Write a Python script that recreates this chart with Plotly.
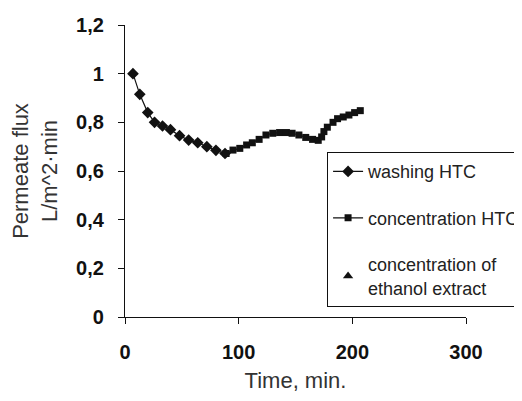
import plotly.graph_objects as go

# Data
washing_time = [7, 13, 20, 26, 33, 40, 48, 56, 64, 72, 80, 88]
washing_flux = [1.0, 0.915, 0.84, 0.80, 0.785, 0.77, 0.745, 0.727, 0.716, 0.70, 0.685, 0.672]

conc_time = [89, 95, 101, 107, 112, 118, 124, 130, 136, 142, 147, 153, 159, 165, 170,
             173, 175, 178, 183, 187, 192, 197, 202, 207]
conc_flux = [0.672, 0.686, 0.693, 0.707, 0.716, 0.73, 0.748, 0.755, 0.758, 0.758, 0.755,
             0.748, 0.738, 0.73, 0.726, 0.74, 0.762, 0.78, 0.80, 0.815, 0.822, 0.83, 0.84, 0.848]

ethanol_time = [None]
ethanol_flux = [None]

x_ticks = [0, 100, 200, 300]
y_ticks = [0, 0.2, 0.4, 0.6, 0.8, 1.0, 1.2]

FONT = "Arial, Liberation Sans, sans-serif"
INK = "#111111"

fig = go.Figure()
fig.add_trace(go.Scatter(
    x=washing_time, y=washing_flux, name="washing HTC", mode="lines+markers",
    line=dict(color=INK, width=1.2), marker=dict(symbol="diamond", size=9, color=INK),
    legendgroup="a"))
fig.add_trace(go.Scatter(
    x=conc_time, y=conc_flux, name="concentration HTC", mode="lines+markers",
    line=dict(color=INK, width=1.2), marker=dict(symbol="square", size=7, color=INK),
    legendgroup="b"))
fig.add_trace(go.Scatter(
    x=ethanol_time, y=ethanol_flux, name="concentration of<br>ethanol extract", mode="markers",
    marker=dict(symbol="triangle-up", size=9, color=INK),
    legendgroup="c"))

fig.update_layout(
    width=514, height=393,
    margin=dict(l=117, r=56, t=17, b=84, autoexpand=False),
    paper_bgcolor="white", plot_bgcolor="white",
    separators=", ",
    font=dict(family=FONT, color="#333333"),
    showlegend=True,
    legend=dict(
        x=0.592, y=0.565, xanchor="left", yanchor="top",
        bordercolor=INK, borderwidth=1.2, bgcolor="white",
        font=dict(family=FONT, size=18, color="#222222"),
        traceorder="grouped", tracegroupgap=20,
    ),
    xaxis=dict(
        range=[0, 300], tickvals=x_ticks, showgrid=False, zeroline=False,
        showline=True, linecolor=INK, linewidth=1.2,
        ticks="outside", ticklen=6, tickcolor=INK, ticklabelstandoff=11,
        tickfont=dict(family=FONT, size=20, color=INK, weight="bold"),
        title=dict(text="Time, min.", font=dict(family=FONT, size=22, color="#333333"), standoff=10),
    ),
    yaxis=dict(
        range=[0, 1.2], tickvals=y_ticks, showgrid=False, zeroline=False,
        showline=True, linecolor=INK, linewidth=1.2,
        ticks="outside", ticklen=6, tickcolor=INK, ticklabelstandoff=10,
        tickfont=dict(family=FONT, size=20, color=INK, weight="bold"),
        title=dict(text="Permeate flux<br>L/m^2·min", font=dict(family=FONT, size=22, color="#333333"), standoff=12),
    ),
)

fig.write_html("out.html")
